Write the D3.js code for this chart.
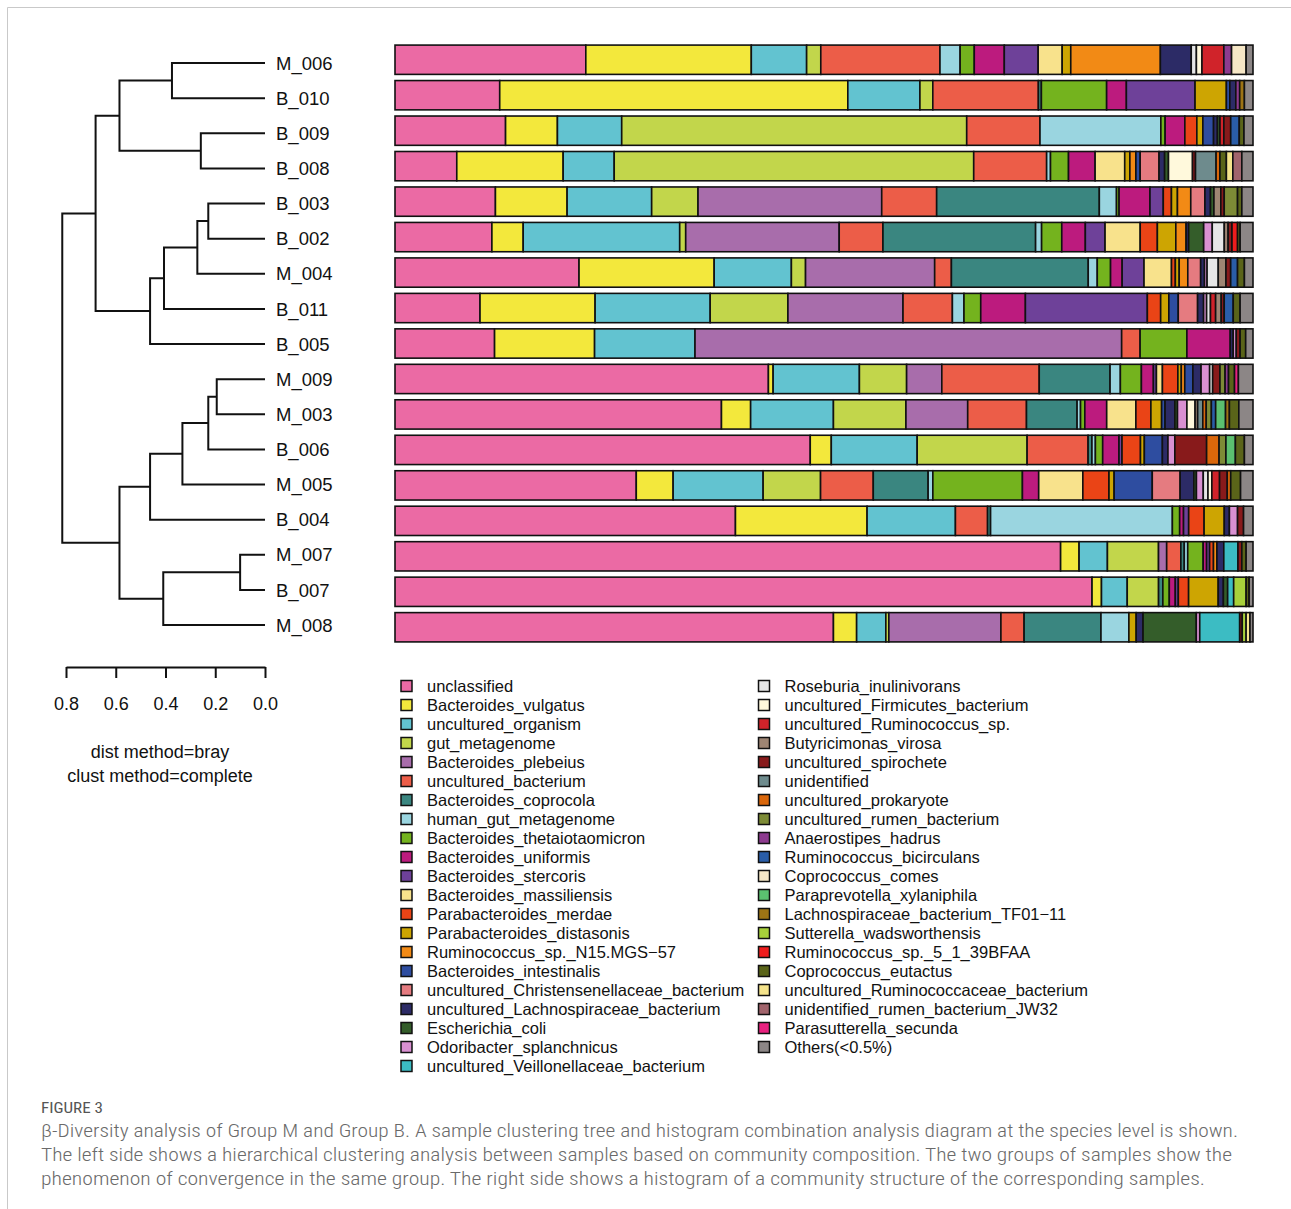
<!DOCTYPE html>
<html>
<head>
<meta charset="utf-8">
<script src="https://cdn.jsdelivr.net/npm/d3@7"></script>
<style>
  body { margin: 0; background: #fff; }
  svg { display: block; font-family: "Liberation Sans", Arial, Helvetica, sans-serif; }
</style>
</head>
<body>
<div id="chart"></div>
<script>
// samples, top to bottom (dendrogram leaf order)
const samples = ["M_006", "B_010", "B_009", "B_008", "B_003", "B_002", "M_004", "B_011", "B_005",
                 "M_009", "M_003", "B_006", "M_005", "B_004", "M_007", "B_007", "M_008"];

const species = [
  "unclassified", "Bacteroides_vulgatus", "uncultured_organism", "gut_metagenome", "Bacteroides_plebeius",
  "uncultured_bacterium", "Bacteroides_coprocola", "human_gut_metagenome", "Bacteroides_thetaiotaomicron",
  "Bacteroides_uniformis", "Bacteroides_stercoris", "Bacteroides_massiliensis", "Parabacteroides_merdae",
  "Parabacteroides_distasonis", "Ruminococcus_sp._N15.MGS\u221257", "Bacteroides_intestinalis",
  "uncultured_Christensenellaceae_bacterium", "uncultured_Lachnospiraceae_bacterium", "Escherichia_coli",
  "Odoribacter_splanchnicus", "uncultured_Veillonellaceae_bacterium",
  "Roseburia_inulinivorans", "uncultured_Firmicutes_bacterium", "uncultured_Ruminococcus_sp.",
  "Butyricimonas_virosa", "uncultured_spirochete", "unidentified", "uncultured_prokaryote",
  "uncultured_rumen_bacterium", "Anaerostipes_hadrus", "Ruminococcus_bicirculans", "Coprococcus_comes",
  "Paraprevotella_xylaniphila", "Lachnospiraceae_bacterium_TF01\u221211", "Sutterella_wadsworthensis",
  "Ruminococcus_sp._5_1_39BFAA", "Coprococcus_eutactus", "uncultured_Ruminococcaceae_bacterium",
  "unidentified_rumen_bacterium_JW32", "Parasutterella_secunda", "Others(<0.5%)"
];

const speciesColors = [
  "#eb6aa4", "#f3e83c", "#62c3d0", "#c2d64b", "#a86dab", "#ec5d48", "#3a8680", "#9ad5e0", "#74b31e",
  "#bc1b7e", "#6e4199", "#f8e28c", "#ea4416", "#cda502", "#f28a15", "#2e4da0", "#e57b80", "#2c2b66",
  "#345d2a", "#d990d1", "#3cbcc3",
  "#e6e6e6", "#fff9dc", "#d0232a", "#9e8573", "#881a1b", "#6e8b8d", "#da670b", "#7d8b36", "#8d3b8f",
  "#2a5da8", "#f6e7c6", "#5bc070", "#9d7415", "#a8d13b", "#ee1d1d", "#5a6419", "#f5e48c", "#a1646c",
  "#e8217f", "#8c8686"
];

// relative abundance (%) per sample, in species order above
const M_006 = [22.25,19.3,6.45,1.65,0,13.9,0,2.35,1.65,3.5, 3.95,2.8,0,1.0,10.45,0,0,3.6,0,0,
  0,0.6,0.65,2.55,0,0,0,0,0,0.9, 0,1.7,0,0,0,0,0,0,0,0, 0.8];
const B_010 = [12.2,40.55,8.4,1.5,0,12.3,0.35,0,7.6,2.3, 8.0,0,0,3.65,0,0.4,0,0.7,0,0,
  0,0,0,0,0,0,0,0,0,0.45, 0,0,0,0.55,0,0,0,0,0,0, 1.0];
const B_009 = [12.9,6.05,7.5,40.25,0,8.55,0,14.1,0.5,2.3, 0,0,1.4,0.7,0,1.25,0,0.45,0.3,0,
  0,0,0,0.45,0,0.8,0,0,0,0, 1.0,0,0,0,0,0,0.55,0,0,0, 1.05];
const B_008 = [7.2,12.4,5.95,41.9,0,8.5,0,0.45,2.1,3.1, 0,3.45,0,0.6,0.7,0.5,2.2,0.65,0.45,0,
  0,0,2.8,0,0,0.35,2.4,0.45,0,0, 0,0,0,0,0,0,0.75,0.75,1.05,0, 1.3];
const B_003 = [11.7,8.35,9.85,5.4,21.4,6.4,18.95,2.0,0.3,3.6, 1.55,0,0.95,0.7,1.55,0,1.65,0.65,0.4,0,
  0,0,0,0,0.8,0.4,0,0,1.55,0, 0,0,0,0,0,0,0.5,0,0,0, 1.3];
const B_002 = [11.3,3.65,18.25,0.7,17.9,5.1,17.8,0.7,2.35,2.75, 2.3,4.1,2.0,2.15,1.2,0,0,0.3,1.75,1.0,
  0,1.4,0,0,0.45,0.45,0,0,0,0, 0,0,0,0,0,0.65,0.3,0,0,0, 1.5];
const M_004 = [21.45,15.75,9.0,1.65,15.05,1.95,15.95,1.05,1.55,1.35, 2.55,3.2,0.45,0.45,1.0,0,1.5,0.45,0,0.3,
  0,1.3,0,0,0.9,0.55,0,0,0,0, 0.8,0,0,0,0,0,0.8,0,0,0, 1.0];
const B_011 = [9.9,13.4,13.4,9.05,13.4,5.75,0,1.35,1.95,5.2, 14.2,0,1.55,0.95,0,1.1,2.25,0.7,0,0.35,
  0,0.45,0,0.6,0.65,0.35,0,0,0,0, 1.05,0,0,0,0,0,0.8,0,0,0, 1.5];
const B_005 = [11.6,11.65,11.7,0,49.7,2.15,0,0,5.45,5.05, 0,0,0,0,0,0,0,0.35,0,0.35,
  0,0,0,0,0,0.45,0,0,0,0, 0,0,0,0,0,0,0.65,0,0,0, 0.85];
const M_009 = [43.5,0.55,10.05,5.5,4.1,11.35,8.25,1.2,2.45,1.4, 0.35,0.7,1.8,0.4,0.4,0.95,0,0.95,0,1.0,
  0,0.35,0,0,0,0.85,0,0,0.6,0.4, 0,0,0,0,0,0,0.7,0,0,0.45, 1.7];
const M_003 = [38.05,3.4,9.65,8.45,7.2,6.85,5.9,0.4,0.5,2.55, 0,3.4,1.75,1.25,0,0.4,0,1.15,0.3,1.1,
  0,0,0.95,0,0.3,0,0.6,0.4,0.6,0, 0.5,0,1.15,0.45,0,0,1.1,0,0,0, 1.65];
const B_006 = [48.35,2.45,10.0,12.8,0,7.1,0.45,0.4,0.85,1.9, 0.35,0,2.15,0.45,0,2.1,0,0.65,0,0.8,
  0,0,0,0,0,3.7,0,1.45,0.8,0, 0,0,1.1,0,0,0,1.05,0,0,0, 1.0];
const M_005 = [28.15,4.3,10.5,6.7,0,6.15,6.4,0.55,10.45,1.9, 0,5.15,3.05,0.6,0,4.45,3.25,1.6,0.3,0.8,
  0,0.55,0.45,0.9,0,0.9,0,0.4,0,0, 0,0,0,0,0,0,1.15,0,0,0, 1.45];
const B_004 = [39.7,15.35,10.3,0,0,3.75,0.35,21.2,0.85,0.45, 0.6,0,1.8,2.35,0,0,0,0.6,0,0.95,
  0,0,0,0,0,0.7,0,0,0,0, 0,0,0,0,0,0,0,0,0,0, 1.1];
const M_007 = [77.5,2.15,3.3,5.95,0.95,1.65,0.4,0.4,1.8,0.4, 0.35,0,0.45,0,0.4,0,0,0.8,0,0,
  1.65,0,0,0,0,0.45,0,0,0,0, 0,0,0,0,0,0,0.5,0,0,0, 0.8];
const B_007 = [81.2,1.1,3.0,3.65,0,0,0.5,0,0.75,0.7, 0.35,0,1.2,3.45,0,0,0,0.6,0.5,0,
  0.7,0,0,0,0,0,0,0,0,0, 0,0,0,0,1.45,0,0.35,0,0,0, 0.45];
const M_008 = [51.05,2.7,3.4,0.35,13.05,2.7,8.95,3.25,0,0, 0,0,0,0.85,0,0,0,0.8,6.2,0.4,
  4.65,0,0,0,0,0.3,0,0,0,0, 0,0,0,0,0.45,0,0,0.45,0,0, 0.35];

const abundance = [M_006, B_010, B_009, B_008, B_003, B_002, M_004, B_011, B_005,
                   M_009, M_003, B_006, M_005, B_004, M_007, B_007, M_008];

// hclust merges (bray-curtis, complete linkage): [left, right, height]; node ids n1..n16
const merges = [
  ["M_007", "B_007", 0.100],
  ["M_009", "M_003", 0.194],
  ["B_003", "B_002", 0.228],
  ["n2", "B_006", 0.228],
  ["B_009", "B_008", 0.258],
  ["n3", "M_004", 0.272],
  ["n4", "M_005", 0.332],
  ["M_006", "B_010", 0.374],
  ["n6", "B_011", 0.406],
  ["n1", "M_008", 0.409],
  ["n9", "B_005", 0.462],
  ["n7", "B_004", 0.462],
  ["n8", "n5", 0.585],
  ["n12", "n10", 0.585],
  ["n13", "n11", 0.681],
  ["n15", "n14", 0.815]
];

const distTicks = [0.8, 0.6, 0.4, 0.2, 0.0];

const captionTitle = "FIGURE 3";
const captionLines = [
  "\u03b2-Diversity analysis of Group M and Group B. A sample clustering tree and histogram combination analysis diagram at the species level is shown.",
  "The left side shows a hierarchical clustering analysis between samples based on community composition. The two groups of samples show the",
  "phenomenon of convergence in the same group. The right side shows a histogram of a community structure of the corresponding samples."
];

const width = 1291, height = 1209;

const svg = d3.select("#chart").append("svg")
  .attr("width", width)
  .attr("height", height);

// figure frame
svg.append("path")
  .attr("d", "M7.5," + height + "V7.5H" + width)
  .attr("fill", "none")
  .attr("stroke", "#c9c9c9")
  .attr("stroke-width", 1);

// ---- stacked bars
const x = d3.scaleLinear().domain([0, 1]).range([395, 1253]);
const yBar = d3.scaleBand().domain(samples).range([42, 645]).paddingInner(0.174).paddingOuter(0.087);

const table = samples.map(function (s, i) {
  const row = { sample: s };
  abundance[i].forEach(function (v, k) { row[k] = v; });
  return row;
});

const stack = d3.stack()
  .keys(d3.range(species.length))
  .offset(d3.stackOffsetExpand);

const layers = stack(table);

const bars = svg.append("g");
layers.forEach(function (layer) {
  bars.selectAll(null)
    .data(layer.filter(d => d[1] - d[0] > 0))
    .enter().append("rect")
    .attr("x", d => x(d[0]))
    .attr("y", d => yBar(d.data.sample))
    .attr("width", d => x(d[1]) - x(d[0]))
    .attr("height", yBar.bandwidth())
    .attr("fill", speciesColors[layer.key])
    .attr("stroke", "#111")
    .attr("stroke-width", 1.6);
});

// ---- dendrogram
const xd = d3.scaleLinear().domain([0.8, 0]).range([66, 265]);
const yLeaf = d3.scalePoint().domain(samples).range([63, 625]);

const pos = {};
samples.forEach(s => { pos[s] = { x: xd(0), y: yLeaf(s) }; });

const tree = svg.append("g")
  .attr("fill", "none")
  .attr("stroke", "#111")
  .attr("stroke-width", 2);

merges.forEach(function (m, i) {
  const a = pos[m[0]], b = pos[m[1]];
  const nx = xd(m[2]);
  pos["n" + (i + 1)] = { x: nx, y: (a.y + b.y) / 2 };
  tree.append("path")
    .attr("d", "M" + a.x + "," + a.y + "H" + nx + "V" + b.y + "H" + b.x);
});

svg.append("g").selectAll("text")
  .data(samples)
  .enter().append("text")
  .attr("x", 276)
  .attr("y", d => yLeaf(d))
  .attr("dy", "0.36em")
  .attr("font-size", 18.5)
  .attr("fill", "#111")
  .text(d => d);

// distance axis
const axis = svg.append("g")
  .attr("transform", "translate(0,667)")
  .call(d3.axisBottom(xd).tickValues(distTicks).tickFormat(d3.format(".1f"))
    .tickSize(11).tickSizeOuter(0).tickPadding(19));
axis.select(".domain").attr("stroke", "#111").attr("stroke-width", 2);
axis.selectAll(".tick line").attr("stroke", "#111").attr("stroke-width", 2);
axis.selectAll(".tick text")
  .attr("font-size", 18)
  .attr("font-family", "'Liberation Sans', Arial, sans-serif")
  .attr("fill", "#111");

svg.append("text")
  .attr("x", 160).attr("y", 758)
  .attr("text-anchor", "middle")
  .attr("font-size", 18)
  .attr("fill", "#111")
  .text("dist method=bray");
svg.append("text")
  .attr("x", 160).attr("y", 782)
  .attr("text-anchor", "middle")
  .attr("font-size", 18)
  .attr("fill", "#111")
  .text("clust method=complete");

// ---- legend (two columns)
const legendCols = [d3.range(0, 21), d3.range(21, species.length)];
const legendX = [401, 758.5];
const legendY = d3.scaleLinear().domain([0, 1]).range([686, 705]);

legendCols.forEach(function (col, c) {
  const g = svg.append("g");
  const item = g.selectAll("g")
    .data(col)
    .enter().append("g")
    .attr("transform", (d, i) => "translate(" + legendX[c] + "," + legendY(i) + ")");
  item.append("rect")
    .attr("x", 0).attr("y", -5.5)
    .attr("width", 11).attr("height", 11)
    .attr("fill", d => speciesColors[d])
    .attr("stroke", "#111")
    .attr("stroke-width", 1.5);
  item.append("text")
    .attr("x", 26)
    .attr("dy", "0.36em")
    .attr("font-size", 16.5)
    .attr("fill", "#111")
    .text(d => species[d]);
});

// ---- caption
svg.append("text")
  .attr("x", 41).attr("y", 1113)
  .attr("font-family", "'Liberation Sans Narrow', 'Roboto Condensed', Roboto, sans-serif")
  .attr("font-size", 14)
  .attr("fill", "#555")
  .attr("textLength", 62)
  .attr("lengthAdjust", "spacingAndGlyphs")
  .text(captionTitle);

svg.append("g").selectAll("text")
  .data(captionLines)
  .enter().append("text")
  .attr("x", 41)
  .attr("y", (d, i) => 1137 + i * 24)
  .attr("font-family", "'Liberation Sans Narrow', 'Roboto Condensed', Roboto, sans-serif")
  .attr("font-weight", 300)
  .attr("font-size", 17.5)
  .attr("fill", "#6a6a6a")
  .attr("textLength", (d, i) => [1197, 1191, 1164][i])
  .attr("lengthAdjust", "spacingAndGlyphs")
  .text(d => d);
</script>
</body>
</html>
